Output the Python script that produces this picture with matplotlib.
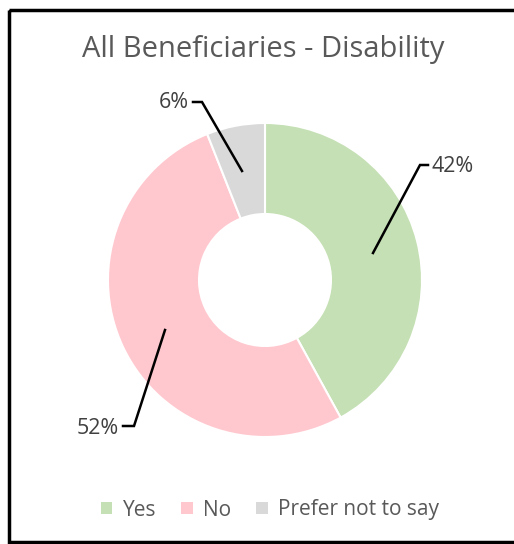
import matplotlib.pyplot as plt
from matplotlib.patches import Rectangle

categories = ["Yes", "No", "Prefer not to say"]
shares = [42, 52, 6]
colors = ["#C5E0B4", "#FFC7CE", "#D9D9D9"]
title = "All Beneficiaries - Disability"

# label text position and leader line (pixel coords, y down)
label_pos = [(431, 167), (119, 428), (189, 102)]
label_ha = ["left", "right", "right"]
leaders = [
    [(373, 253), (420, 165), (428, 165)],
    [(165, 330), (134, 426), (123, 426)],
    [(242, 171), (202, 102), (193, 102)],
]

W, H = 514, 544
plt.rcParams["font.family"] = ["Open Sans", "DejaVu Sans"]

fig = plt.figure(figsize=(W / 100, H / 100), dpi=100)
ax = fig.add_axes([0, 0, 1, 1])

# chart frame
ax.add_patch(Rectangle((9, 10), W + 20, H - 12, fill=False, ec="black", lw=2.5))

cx, cy, r_out, r_in = 265, 280, 157, 66
wedges, _ = ax.pie(
    shares,
    colors=colors,
    startangle=-90,
    counterclock=True,
    radius=r_out,
    center=(cx, cy),
    wedgeprops=dict(width=r_out - r_in, edgecolor="white", linewidth=1.5),
    frame=True,
)
ax.set_xlim(0, W)
ax.set_ylim(H, 0)
ax.axis("off")

for val, pos, ha, pts in zip(shares, label_pos, label_ha, leaders):
    xs, ys = zip(*pts)
    ax.plot(xs, ys, color="black", lw=1.8, solid_joinstyle="miter")
    ax.text(pos[0], pos[1], f"{val}%", ha=ha, va="center", fontsize=15.5, color="#404040")

ax.text(263, 50, title, ha="center", va="center", fontsize=21, color="#595959")

leg = ax.legend(
    wedges,
    categories,
    loc="center",
    bbox_to_anchor=(270 / W, 1 - 510 / H),
    ncol=3,
    frameon=False,
    fontsize=15,
    handlelength=0.55,
    handleheight=0.55,
    handletextpad=0.5,
    columnspacing=1.2,
)
for t in leg.get_texts():
    t.set_color("#595959")
for h in leg.legend_handles:
    h.set_edgecolor("none")

fig.savefig("out.png", dpi=100, facecolor="white")
